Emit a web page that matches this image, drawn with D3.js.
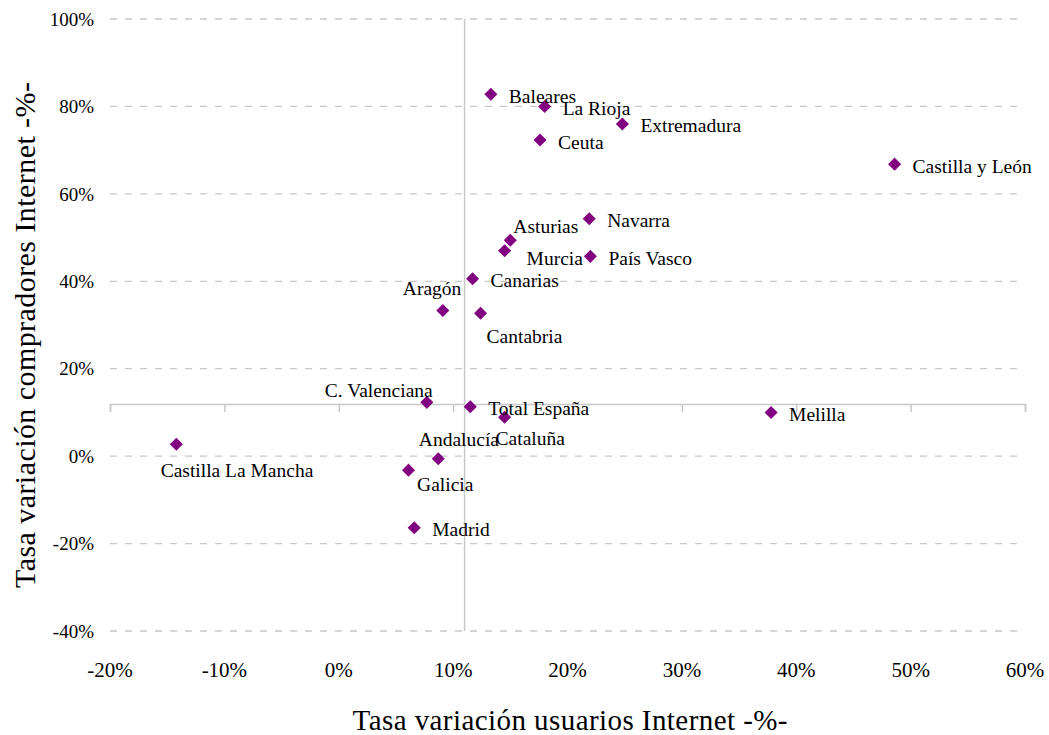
<!DOCTYPE html>
<html>
<head>
<meta charset="utf-8">
<script src="https://d3js.org/d3.v7.min.js"></script>
<style>
body{margin:0;background:#fff;}
svg text{font-family:"Liberation Serif","Times New Roman",Times,"DejaVu Serif",serif;fill:#000;}
</style>
</head>
<body>
<svg id="chart" width="1049" height="735"></svg>
<script>
// datos: tasa de variación usuarios (x) y compradores (y) de Internet
var regiones=["Baleares","La Rioja","Extremadura","Ceuta","Castilla y León","Navarra","Asturias","Murcia","País Vasco","Canarias","Aragón","Cantabria","C. Valenciana","Total España","Melilla","Cataluña","Castilla La Mancha","Andalucía","Galicia","Madrid"];
var usuarios=[0.133,0.180,0.248,0.176,0.486,0.219,0.150,0.145,0.220,0.117,0.091,0.124,0.077,0.115,0.378,0.145,-0.142,0.087,0.061,0.066];
var compradores=[0.828,0.800,0.760,0.723,0.668,0.543,0.494,0.470,0.457,0.406,0.333,0.327,0.123,0.113,0.100,0.089,0.027,-0.006,-0.032,-0.164];
var xTicks=[-0.2,-0.1,0,0.1,0.2,0.3,0.4,0.5,0.6];
var yTicks=[-0.4,-0.2,0,0.2,0.4,0.6,0.8,1.0];
// punto de corte de los ejes
var CRUCE_X=0.110, CRUCE_Y=0.119;

// colocación de etiquetas (desplazamiento respecto al punto)
var DER={dx:18,dy:8.5};
var etiquetaPos={
	"Asturias":{dx:3,dy:-7.6},
	"Murcia":{dx:22,dy:14},
	"Aragón":{dx:-40,dy:-15.7},
	"Cantabria":{dx:6,dy:30},
	"C. Valenciana":{dx:-102,dy:-5.6},
	"Cataluña":{dx:-9,dy:28},
	"Andalucía":{dx:-19.4,dy:-12.7},
	"Castilla La Mancha":{dx:-15.7,dy:32.4},
	"Galicia":{dx:8.6,dy:20.4}
};

var FUENTE='"Liberation Serif","Times New Roman",Times,"DejaVu Serif",serif';
var svg=d3.select("#chart");
var LEFT=110, RIGHT=1025, TOP=19, BOTTOM=631;
var x=d3.scaleLinear().domain([-0.2,0.6]).range([LEFT,RIGHT]);
var y=d3.scaleLinear().domain([-0.4,1.0]).range([BOTTOM,TOP]);
function pct(d){return Math.round(d*100)+"%";}

// líneas de división horizontales
svg.append("g").selectAll("line").data(yTicks).enter().append("line")
	.attr("x1",LEFT).attr("x2",RIGHT)
	.attr("y1",function(d){return y(d);}).attr("y2",function(d){return y(d);})
	.style("stroke","#c8c8c8").style("stroke-width","1.3px")
	.attr("stroke-dasharray","7 8");

// etiquetas eje y
svg.append("g").selectAll("text").data(yTicks).enter().append("text")
	.attr("x",94).attr("y",function(d){return y(d);})
	.attr("dy","0.35em").attr("text-anchor","end")
	.attr("font-family",FUENTE)
	.style("font-size","19px")
	.text(pct);

// eje horizontal en el cruce
var ejeX=svg.append("g")
	.attr("transform","translate(0,"+y(CRUCE_Y)+")")
	.call(d3.axisBottom(x).tickValues(xTicks).tickSize(8).tickSizeOuter(8).tickFormat(""));
ejeX.selectAll("path,line").style("stroke","#c8c8c8").style("stroke-width","1.5px");

// eje vertical en el cruce
svg.append("line")
	.attr("x1",x(CRUCE_X)).attr("x2",x(CRUCE_X))
	.attr("y1",TOP).attr("y2",BOTTOM)
	.style("stroke","#c8c8c8").style("stroke-width","1.5px");

// etiquetas eje x
svg.append("g").selectAll("text").data(xTicks).enter().append("text")
	.attr("x",function(d){return x(d);}).attr("y",677)
	.attr("text-anchor","middle")
	.attr("font-family",FUENTE)
	.style("font-size","21px")
	.text(pct);

// títulos
svg.append("text")
	.attr("x",570).attr("y",730)
	.attr("text-anchor","middle")
	.attr("font-family",FUENTE)
	.style("font-size","29px")
	.attr("textLength",435).attr("lengthAdjust","spacing")
	.text("Tasa variación usuarios Internet -%-");
svg.append("text")
	.attr("transform","translate(35,335) rotate(-90)")
	.attr("text-anchor","middle")
	.attr("font-family",FUENTE)
	.style("font-size","30px")
	.attr("textLength",506).attr("lengthAdjust","spacing")
	.text("Tasa variación compradores Internet -%-");

// puntos
var puntos=d3.range(regiones.length);
svg.append("g").selectAll("path").data(puntos).enter().append("path")
	.attr("d",d3.symbol(d3.symbolSquare,85))
	.attr("transform",function(i){return "translate("+x(usuarios[i])+","+y(compradores[i])+") rotate(45)";})
	.style("fill","#800080");

// etiquetas de datos
svg.append("g").selectAll("text").data(puntos).enter().append("text")
	.attr("x",function(i){var p=etiquetaPos[regiones[i]]||DER;return x(usuarios[i])+p.dx;})
	.attr("y",function(i){var p=etiquetaPos[regiones[i]]||DER;return y(compradores[i])+p.dy;})
	.attr("font-family",FUENTE)
	.style("font-size","19.5px")
	.text(function(i){return regiones[i];});
</script>
</body>
</html>
